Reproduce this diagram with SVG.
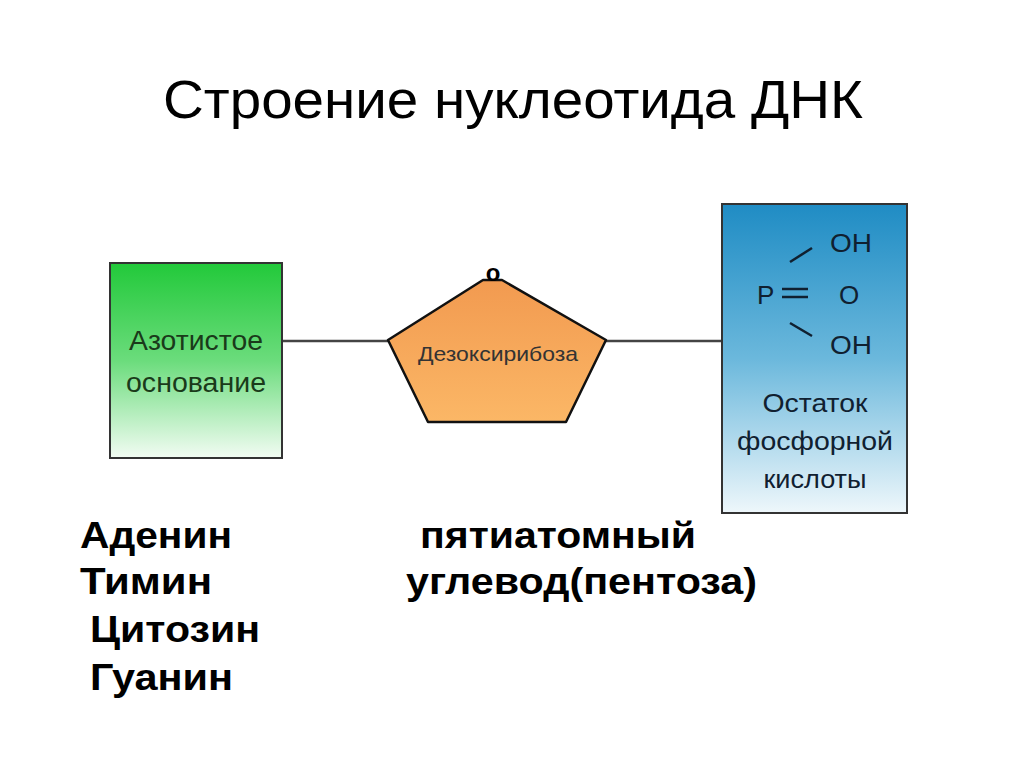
<svg xmlns="http://www.w3.org/2000/svg" width="1024" height="767" viewBox="0 0 1024 767">
<defs>
<linearGradient id="g" x1="0" y1="0" x2="0" y2="1"><stop offset="0" stop-color="#22c93a"/><stop offset="0.5" stop-color="#6bdc7c"/><stop offset="1" stop-color="#f2fcf3"/></linearGradient>
<linearGradient id="o" x1="0" y1="0" x2="0" y2="1"><stop offset="0" stop-color="#f29a50"/><stop offset="1" stop-color="#fbb766"/></linearGradient>
<linearGradient id="b" x1="0" y1="0" x2="0" y2="1"><stop offset="0" stop-color="#1f8cc4"/><stop offset="0.5" stop-color="#6bb8dc"/><stop offset="1" stop-color="#eef7fb"/></linearGradient>
<style>
text{font-family:"Liberation Sans",Arial,sans-serif}
.n{font-size:27px;fill:#1a3a1a;text-anchor:middle}
.c{font-size:26px;fill:#102030}
.b{font-size:36px;font-weight:bold;fill:#000}
</style>
</defs>
<rect width="1024" height="767" fill="#fff"/>
<text x="163" y="118" font-size="54" fill="#000" textLength="700" lengthAdjust="spacingAndGlyphs">Строение нуклеотида ДНК</text>
<g id="connectors" stroke="#444" stroke-width="2.5">
<line x1="282" y1="341" x2="388" y2="341"/>
<line x1="606" y1="341" x2="722" y2="341"/>
</g>
<g id="base">
<rect x="110" y="263" width="172" height="195" fill="url(#g)" stroke="#333" stroke-width="2"/>
<text class="n" x="196" y="350" textLength="134" lengthAdjust="spacingAndGlyphs">Азотистое</text>
<text class="n" x="196" y="392" textLength="140" lengthAdjust="spacingAndGlyphs">основание</text>
</g>
<g id="sugar">
<polygon points="483,280 388,340 428,422 566,422 606,340 502,280" fill="url(#o)" stroke="#111" stroke-width="2.5" stroke-linejoin="round"/>
<text x="493" y="281" text-anchor="middle" font-size="24" font-weight="bold" fill="#000">o</text>
<text x="498" y="361" text-anchor="middle" font-size="21" fill="#333" textLength="160" lengthAdjust="spacingAndGlyphs">Дезоксирибоза</text>
</g>
<g id="phosphate">
<rect x="722" y="204" width="185" height="309" fill="url(#b)" stroke="#333" stroke-width="2"/>
<text class="c" x="830" y="252" textLength="42" lengthAdjust="spacingAndGlyphs">OH</text>
<text class="c" x="757" y="304">P</text>
<text class="c" x="839" y="304">O</text>
<text class="c" x="830" y="354" textLength="42" lengthAdjust="spacingAndGlyphs">OH</text>
<g stroke="#102030" stroke-width="2.5"><line x1="790" y1="262" x2="812" y2="248"/><line x1="782" y1="289" x2="808" y2="289"/><line x1="782" y1="297" x2="808" y2="297"/><line x1="790" y1="323" x2="812" y2="336"/></g>
<text class="c" x="815" y="412" text-anchor="middle" font-size="28" textLength="105" lengthAdjust="spacingAndGlyphs">Остаток</text>
<text class="c" x="815" y="450" text-anchor="middle" font-size="28" textLength="156" lengthAdjust="spacingAndGlyphs">фосфорной</text>
<text class="c" x="815" y="488" text-anchor="middle" font-size="28" textLength="103" lengthAdjust="spacingAndGlyphs">кислоты</text>
</g>
<g id="labels">
<text class="b" x="80" y="548" textLength="152" lengthAdjust="spacingAndGlyphs">Аденин</text>
<text class="b" x="80" y="594" textLength="132" lengthAdjust="spacingAndGlyphs">Тимин</text>
<text class="b" x="90" y="642" textLength="170" lengthAdjust="spacingAndGlyphs">Цитозин</text>
<text class="b" x="90" y="690" textLength="143" lengthAdjust="spacingAndGlyphs">Гуанин</text>
<text class="b" x="420" y="548" textLength="276" lengthAdjust="spacingAndGlyphs">пятиатомный</text>
<text class="b" x="406" y="594" textLength="351" lengthAdjust="spacingAndGlyphs">углевод(пентоза)</text>
</g>
</svg>
